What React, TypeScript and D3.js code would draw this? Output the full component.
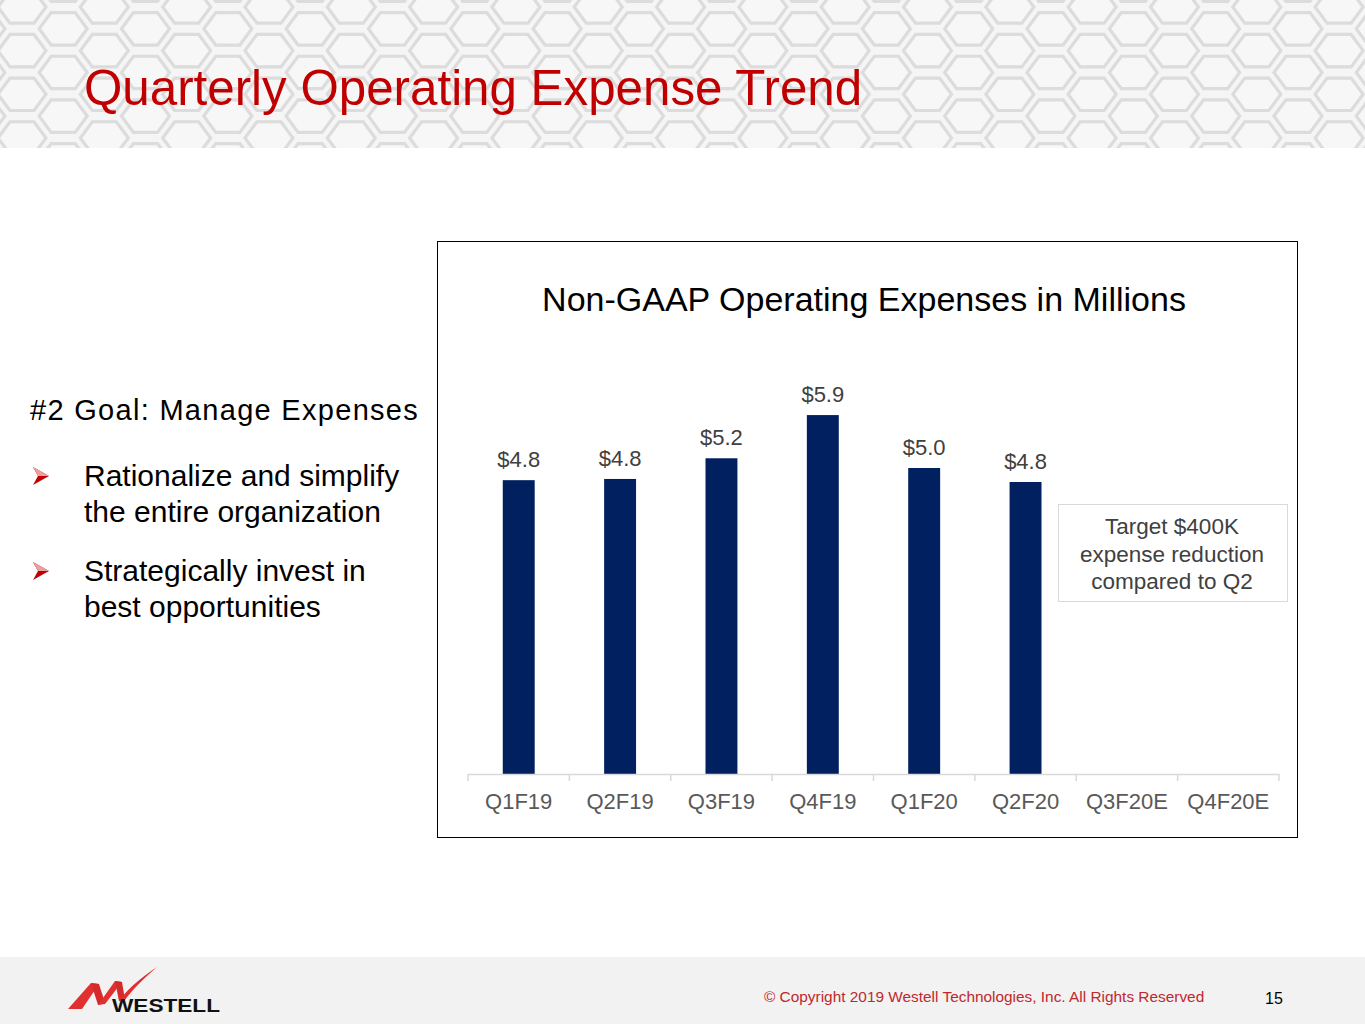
import React from "react";
import * as d3 from "d3";

const categories = ["Q1F19", "Q2F19", "Q3F19", "Q4F19", "Q1F20", "Q2F20", "Q3F20E", "Q4F20E"];
const values: (number | null)[] = [4.83, 4.85, 5.19, 5.9, 5.03, 4.8, null, null];
const valueLabels = ["$4.8", "$4.8", "$5.2", "$5.9", "$5.0", "$4.8", "", ""];
const bulletLines = [
  ["Rationalize and simplify", "the entire organization"],
  ["Strategically invest in", "best opportunities"],
];
const noteLines = ["Target $400K", "expense reduction", "compared to Q2"];

const W = 1365;
const H = 1024;
const FONT = "Arial, 'Liberation Sans', Helvetica, sans-serif";

function HexPattern() {
  const R = 28;
  const r = 24;
  const dx = 1.5 * R * 0.98;
  const dy = Math.sqrt(3) * R * 0.9;
  const hexes: string[] = [];
  for (let c = -1; c < 40; c++) {
    for (let k = -1; k < 8; k++) {
      const cx = c * dx + 22;
      const cy = k * dy + (c % 2 === 0 ? 7 : 7 + dy / 2);
      const pts = d3.range(6).map((i) => {
        const a = (Math.PI / 3) * i;
        return [cx + r * Math.cos(a), cy + r * 0.78 * Math.sin(a)];
      });
      hexes.push("M" + pts.map((p) => p.join(",")).join("L") + "Z");
    }
  }
  return (
    <g>
      <defs>
        <clipPath id="hdrclip">
          <rect x={0} y={0} width={W} height={148} />
        </clipPath>
      </defs>
      <rect x={0} y={0} width={W} height={148} fill="#f5f5f5" />
      <g clipPath="url(#hdrclip)">
        {hexes.map((d, i) => (
          <path key={i} d={d} fill="#f7f7f7" stroke="#dcdcdc" strokeWidth={3.2} />
        ))}
      </g>
    </g>
  );
}

export default function App() {
  const x = d3.scaleBand<string>().domain(categories).range([468, 1279]).paddingInner(0.685).paddingOuter(0.343);
  const xb = d3.scaleBand<string>().domain(categories).range([468, 1279]);
  const y = d3.scaleLinear().domain([0, 6]).range([774, 409]);

  return (
    <svg
      width={W}
      height={H}
      style={{ position: "absolute", left: 0, top: 0, display: "block", background: "#fff" }}
      fontFamily={FONT}
    >
      <HexPattern />
      <text x={84} y={105} fontSize={49.3} fill="#c00000">
        Quarterly Operating Expense Trend
      </text>

      {/* left text */}
      <text x={30} y={420} fontSize={29} letterSpacing={1.3} fill="#000">
        #2 Goal: Manage Expenses
      </text>
      {bulletLines.map((lines, i) => {
        const by = 486 + i * 95;
        return (
          <g key={i}>
            <g transform={`translate(33,${by - 10})`}>
              <path d="M0,-9 L16,0 L0,9 L5,0 Z" fill="#c00000" />
              <path d="M0,-9 L16,0 L5,0 Z" fill="#e8a0a0" />
            </g>
            {lines.map((t, j) => (
              <text key={j} x={84} y={by + j * 36} fontSize={30} fill="#000">
                {t}
              </text>
            ))}
          </g>
        );
      })}

      {/* chart frame */}
      <rect x={437.5} y={241.5} width={860} height={596} fill="#fff" stroke="#000" strokeWidth={1} />
      <text x={864} y={311} fontSize={34} textAnchor="middle" fill="#000">
        Non-GAAP Operating Expenses in Millions
      </text>

      {/* bars */}
      {categories.map((c, i) => {
        const v = values[i];
        if (v == null) return null;
        const bx = x(c) as number;
        return (
          <g key={c}>
            <rect x={bx} y={y(v)} width={x.bandwidth()} height={774 - y(v)} fill="#002060" />
            <text
              x={bx + x.bandwidth() / 2}
              y={y(v) - 13}
              fontSize={22}
              textAnchor="middle"
              fill="#404040"
            >
              {valueLabels[i]}
            </text>
          </g>
        );
      })}

      {/* axis */}
      <line x1={468} x2={1279} y1={774.5} y2={774.5} stroke="#d9d9d9" strokeWidth={1.5} />
      {categories.concat(["end"]).map((c, i) => {
        const tx = 468 + i * xb.bandwidth();
        return <line key={i} x1={tx} x2={tx} y1={774} y2={781} stroke="#d9d9d9" strokeWidth={1.5} />;
      })}
      {categories.map((c) => (
        <text
          key={c}
          x={(xb(c) as number) + xb.bandwidth() / 2}
          y={809}
          fontSize={22}
          textAnchor="middle"
          fill="#595959"
        >
          {c}
        </text>
      ))}

      {/* annotation */}
      <rect x={1058.5} y={504.5} width={229} height={97} fill="#fff" stroke="#d9d9d9" strokeWidth={1} />
      {noteLines.map((t, i) => (
        <text key={i} x={1172} y={534 + i * 27.5} fontSize={22.5} textAnchor="middle" fill="#404040">
          {t}
        </text>
      ))}

      {/* footer */}
      <rect x={0} y={957} width={W} height={67} fill="#f2f2f2" />
      <g>
        <path d="M68,1009 L91,983 L99,984 L82,1009 Z" fill="#e03030" />
        <path d="M91,983 L99,984 L105,1003 L98,1005 Z" fill="#d42a2a" />
        <path d="M98,1005 L115,981 L122,982 L105,1004 Z" fill="#e03030" />
        <path d="M115,981 L122,982 L125,1000 L119,1001 Z" fill="#d42a2a" />
        <path d="M119,1001 Q130,985 157,967 Q134,987 125,1000 Z" fill="#e03030" />
      </g>
      <text
        x={112}
        y={1012}
        fontSize={19}
        fontWeight="bold"
        fill="#111"
        textLength={108}
        lengthAdjust="spacingAndGlyphs"
      >
        WESTELL
      </text>
      <text x={764} y={1002} fontSize={15.4} fill="#c0282d">
        © Copyright 2019 Westell Technologies, Inc. All Rights Reserved
      </text>
      <text x={1265} y={1004} fontSize={16} fill="#000">
        15
      </text>
    </svg>
  );
}
